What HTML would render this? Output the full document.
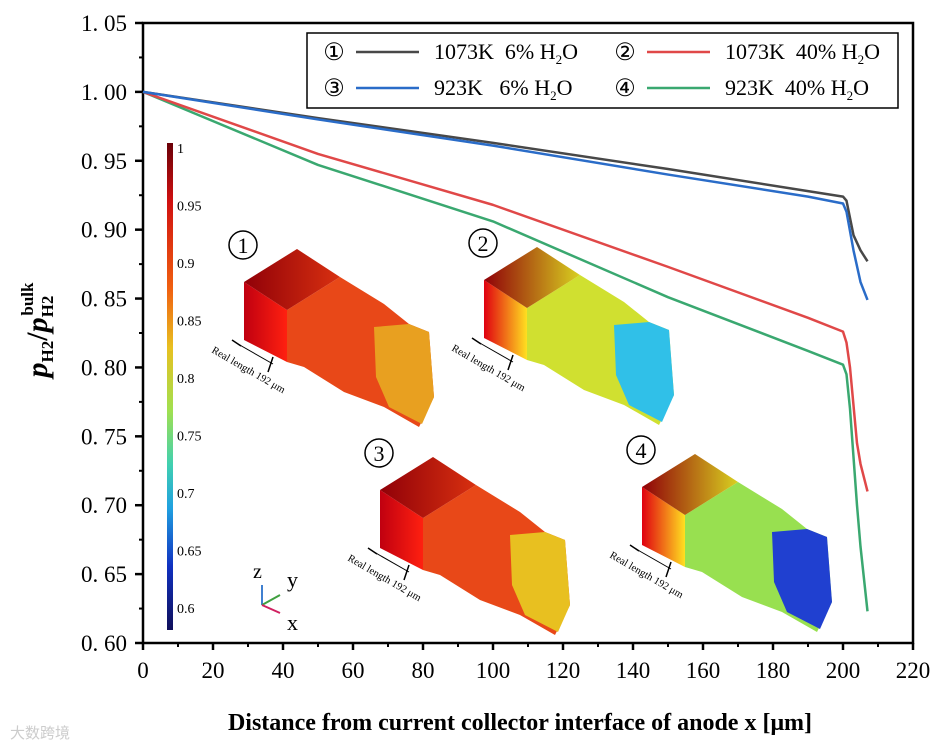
<!DOCTYPE html>
<html><head><meta charset="utf-8"><style>
body{margin:0;background:#fff;width:941px;height:746px;overflow:hidden}
svg{display:block}
text{font-family:"Liberation Serif",serif}
</style></head><body>
<svg id="chart" width="941" height="746" viewBox="0 0 941 746" xmlns="http://www.w3.org/2000/svg">
<defs>
<linearGradient id="cb" x1="0" y1="0" x2="0" y2="1">
<stop offset="0" stop-color="#6a0008"/><stop offset="0.12" stop-color="#d01010"/><stop offset="0.3" stop-color="#f06010"/><stop offset="0.42" stop-color="#e8c020"/><stop offset="0.55" stop-color="#a0e050"/><stop offset="0.66" stop-color="#40d0b0"/><stop offset="0.75" stop-color="#20a0e0"/><stop offset="0.87" stop-color="#1030c0"/><stop offset="1" stop-color="#10105a"/>
</linearGradient>
<linearGradient id="fr1" x1="0" y1="0" x2="1" y2="0"><stop offset="0" stop-color="#c00010"/><stop offset="1" stop-color="#ff2010"/></linearGradient>
<linearGradient id="fr2" x1="0" y1="0" x2="1" y2="0"><stop offset="0" stop-color="#e00010"/><stop offset="1" stop-color="#ffe020"/></linearGradient>
<linearGradient id="tp1" x1="0" y1="0" x2="1" y2="0"><stop offset="0" stop-color="#900008"/><stop offset="1" stop-color="#d83010"/></linearGradient>
<linearGradient id="tp2" x1="0" y1="0" x2="1" y2="0"><stop offset="0" stop-color="#900008"/><stop offset="1" stop-color="#d8d020"/></linearGradient>
</defs>
<g id="insets"></g>
<g id="axes"></g>
<g id="series"></g>
</svg>
<script>
const NS="http://www.w3.org/2000/svg";
const xTicks=[0,20,40,60,80,100,120,140,160,180,200,220];
const yTicks=[0.60,0.65,0.70,0.75,0.80,0.85,0.90,0.95,1.00,1.05];
const xVals1=[0,50,100,150,190,200,201,203,205,207];
const black=[1.0,0.981,0.963,0.944,0.928,0.924,0.921,0.896,0.885,0.877];
const xVals2=[0,50,100,150,190,200,201,203,205,207];
const blue=[1.0,0.980,0.961,0.940,0.924,0.919,0.913,0.885,0.862,0.849];
const xVals3=[0,50,100,150,190,200,201,202,204,205,207];
const red=[1.0,0.955,0.918,0.873,0.836,0.826,0.818,0.800,0.745,0.730,0.710];
const green=[1.0,0.947,0.906,0.851,0.812,0.802,0.795,0.770,0.700,0.670,0.623];
const cbTicks=[1,0.95,0.9,0.85,0.8,0.75,0.7,0.65,0.6];
const X0=143,X1=913,Y0=643,Y1=23;
const xs=v=>X0+(v-0)/(220-0)*(X1-X0);
const ys=v=>Y0-(v-0.6)/(1.05-0.6)*(Y0-Y1);
function mk(tag,attrs,parent,txt){const e=document.createElementNS(NS,tag);for(const k in attrs)e.setAttribute(k,attrs[k]);if(txt!==undefined)e.textContent=txt;parent.appendChild(e);return e;}
const axes=document.getElementById('axes');
const frame=mk('rect',{x:X0,y:Y1,width:X1-X0,height:Y0-Y1,fill:'none',stroke:'#000','stroke-width':2.5},axes);

xTicks.forEach((t,i)=>{
  const x=xs(t);
  const tk=mk('line',{x1:x,x2:x,y1:Y0,y2:Y0+7,stroke:'#000','stroke-width':2.5},axes);
  
  if(i<xTicks.length-1){const m=mk('line',{x1:xs(t+10),x2:xs(t+10),y1:Y0,y2:Y0+4,stroke:'#000','stroke-width':2},axes);}
  const lb=mk('text',{x:x,y:Y0+35,'font-size':23,'text-anchor':'middle'},axes,String(t));
  
});
yTicks.forEach((t,i)=>{
  const y=ys(t);
  const tk=mk('line',{x1:X0-8,x2:X0,y1:y,y2:y,stroke:'#000','stroke-width':2.5},axes);
  
  if(i<yTicks.length-1){const m=mk('line',{x1:X0-4,x2:X0,y1:ys(t+0.025),y2:ys(t+0.025),stroke:'#000','stroke-width':2},axes);}
  const lb=mk('text',{x:X0-16,y:y+8,'font-size':23,'text-anchor':'end'},axes,t.toFixed(2).replace('.','. '));
  
});
const xt=mk('text',{x:520,y:730,'font-size':24,'font-weight':'bold','text-anchor':'middle'},axes,'Distance from current collector interface of anode x [μm]');

const yt=mk('text',{transform:'translate(47,330) rotate(-90)','font-size':30,'font-weight':'bold','font-style':'italic','text-anchor':'middle'},axes);

yt.innerHTML='p<tspan font-size="17" font-style="normal" dy="6">H2</tspan><tspan dy="-6" font-style="normal">/</tspan>p<tspan font-size="17" font-style="normal" dy="6">H2</tspan><tspan font-size="17" font-style="normal" dy="-20" dx="-20">bulk</tspan>';
const wm=mk('text',{x:10,y:738,'font-size':15,fill:'#ccc','font-family':'Liberation Sans, Noto Sans CJK SC, sans-serif'},axes,'大数跨境');


const cbr=mk('rect',{x:167,y:143,width:6,height:487,fill:'url(#cb)'},axes);

cbTicks.forEach(v=>{const y=148+(1-v)/0.4*460;const l=mk('text',{x:177,y:y+5,'font-size':14,'font-family':'Liberation Sans, sans-serif'},axes,String(v));});

const ins=document.getElementById('insets');
const insetDefs=[
 {n:'1',ox:244,oy:282,fr:'url(#fr1)',tp:'url(#tp1)',body:'#e84818',tail:'#e8a020',name:'inset-1'},
 {n:'2',ox:484,oy:280,fr:'url(#fr2)',tp:'url(#tp2)',body:'#d0e030',tail:'#30c0e8',name:'inset-2'},
 {n:'3',ox:380,oy:490,fr:'url(#fr1)',tp:'url(#tp1)',body:'#e84818',tail:'#e8c020',name:'inset-3'},
 {n:'4',ox:642,oy:487,fr:'url(#fr2)',tp:'url(#tp2)',body:'#98e050',tail:'#2040d0',name:'inset-4'}];
insetDefs.forEach(d=>{
  const g=mk('g',{transform:`translate(${d.ox},${d.oy})`},ins);
  
  mk('polygon',{points:'43,28 96,-5 140,22 165,42 185,50 190,115 175,145 140,125 100,110 60,85 43,80',fill:d.body},g);
  mk('polygon',{points:'130,45 165,42 185,50 190,115 178,142 145,125 132,95',fill:d.tail},g);
  mk('polygon',{points:'0,0 43,28 43,80 0,58',fill:d.fr},g);
  mk('polygon',{points:'0,0 53,-33 96,-5 43,28',fill:d.tp},g);
  mk('line',{x1:-12,y1:58,x2:-3,y2:64,stroke:'#000','stroke-width':1.5},g);
  mk('line',{x1:-6,y1:62,x2:29,y2:82,stroke:'#000','stroke-width':1},g);
  mk('line',{x1:29,y1:75,x2:24,y2:90,stroke:'#000','stroke-width':1.5},g);
  mk('text',{transform:'translate(-33,70) rotate(30)','font-size':10.5,'font-family':'Liberation Sans, sans-serif'},g,'Real length 192 μm');
  mk('circle',{cx:-1,cy:-37,r:14,fill:'none',stroke:'#000','stroke-width':1.5},g);
  mk('text',{x:-1,y:-29,'font-size':22,'text-anchor':'middle','font-family':'Liberation Sans, sans-serif'},g,d.n);
});
const tri=mk('g',{},ins);
mk('line',{x1:262,y1:605,x2:262,y2:585,stroke:'#4080d0','stroke-width':2},tri);
mk('line',{x1:262,y1:605,x2:280,y2:595,stroke:'#40a040','stroke-width':2},tri);
mk('line',{x1:262,y1:605,x2:280,y2:613,stroke:'#d02060','stroke-width':2},tri);
mk('text',{x:253,y:578,'font-size':20,'font-family':'Liberation Sans, sans-serif'},tri,'z');
mk('text',{x:287,y:587,'font-size':22,'font-family':'Liberation Sans, sans-serif'},tri,'y');
mk('text',{x:287,y:630,'font-size':22,'font-family':'Liberation Sans, sans-serif'},tri,'x');

const sg=document.getElementById('series');
function line(xv,yv,color,name){const p=mk('polyline',{points:xv.map((x,i)=>xs(x)+','+ys(yv[i])).join(' '),fill:'none',stroke:color,'stroke-width':2.5,'stroke-linejoin':'round'},sg);}
line(xVals3,green,'#3aa870','series-923k-40');
line(xVals3,red,'#e04848','series-1073k-40');
line(xVals1,black,'#484848','series-1073k-6');
line(xVals2,blue,'#2a6cc8','series-923k-6');

const lg=mk('g',{},sg);
mk('rect',{x:307,y:33,width:591,height:75,fill:'#fff',stroke:'#000','stroke-width':1.5},lg);
const ents=[['①',334,52,'#484848','1073K  6% H','2','O'],['②',625,52,'#e04848','1073K  40% H','2','O'],['③',334,88,'#2a6cc8','923K   6% H','2','O'],['④',625,88,'#3aa870','923K  40% H','2','O']];
ents.forEach(e=>{
  const g=mk('g',{},lg);
  mk('text',{x:e[1],y:e[2]+8,'font-size':24,'text-anchor':'middle'},g,e[0]);
  mk('line',{x1:e[1]+22,x2:e[1]+85,y1:e[2],y2:e[2],stroke:e[3],'stroke-width':2.5},g);
  const t=mk('text',{x:e[1]+100,y:e[2]+7,'font-size':22},g);
  t.innerHTML=e[4].replace(/ /g,'\u00a0')+'<tspan font-size="13" dy="5">'+e[5]+'</tspan><tspan dy="-5">'+e[6]+'</tspan>';
});
</script>
</body></html>
